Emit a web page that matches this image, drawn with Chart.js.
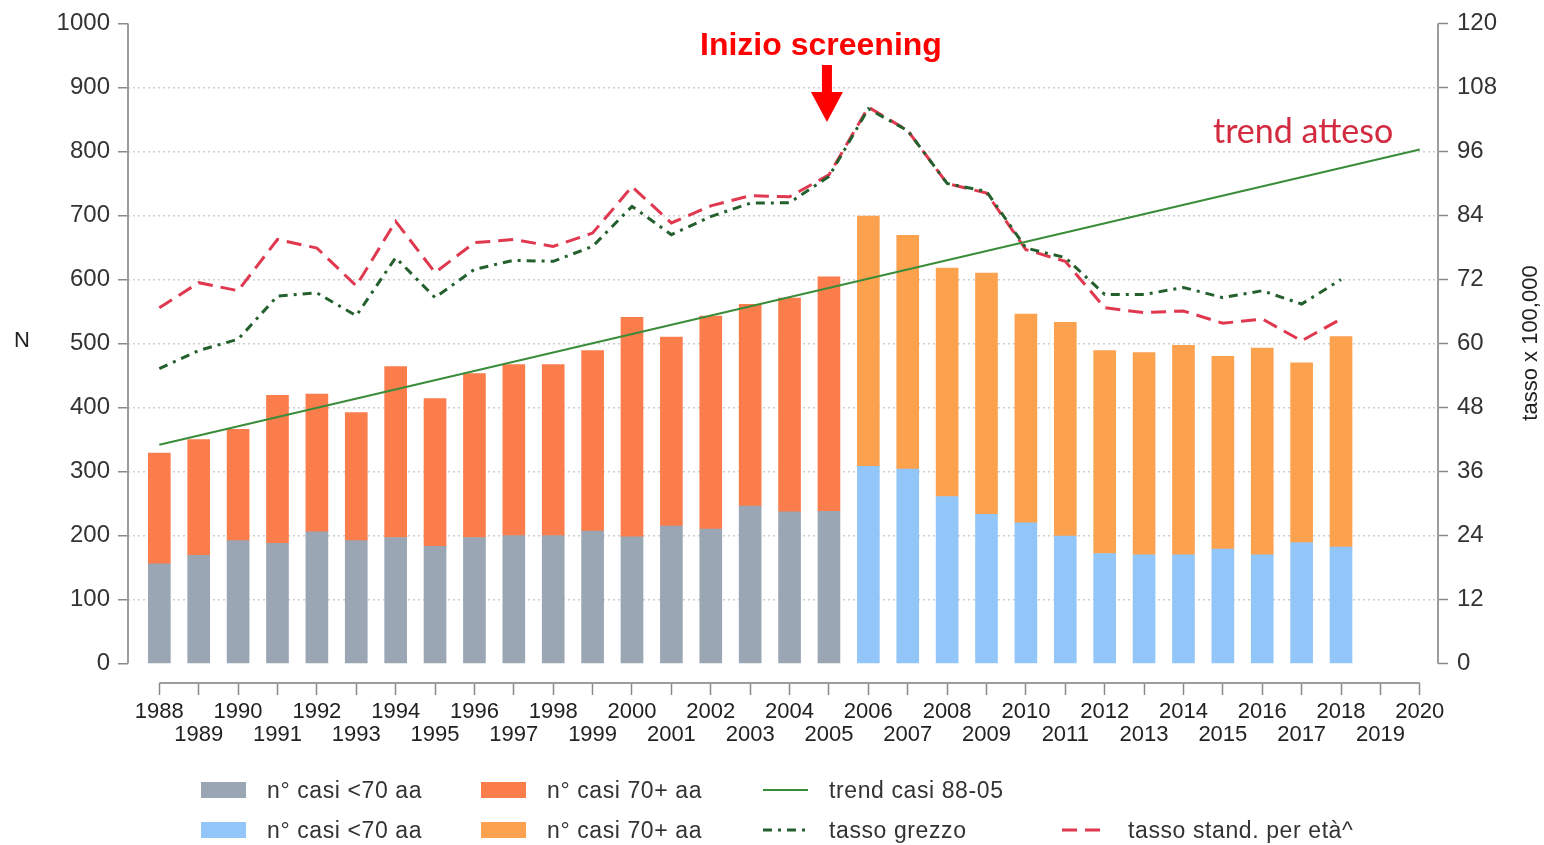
<!DOCTYPE html>
<html>
<head>
<meta charset="utf-8">
<script src="https://cdn.jsdelivr.net/npm/chart.js@4.4.1/dist/chart.umd.min.js"></script>
<style>
  html, body { margin: 0; padding: 0; background: #fff; }
  #wrap { position: relative; width: 1544px; height: 845px; }
  #legend { position: absolute; left: 0; top: 0; width: 1544px; height: 845px; pointer-events: none;
    font-family: "Liberation Sans", Arial, sans-serif; font-size: 23px; letter-spacing: 0.6px; color: #333; }
  .item { position: absolute; display: flex; align-items: center; white-space: nowrap; }
  .swatch { width: 45px; height: 16px; margin-right: 21px; }
</style>
</head>
<body>
<div id="wrap">
  <canvas id="chart"></canvas>
  <div id="legend"></div>
</div>
<script>
// years with bars, and the years shown on the x axis
const years = [1988, 1989, 1990, 1991, 1992, 1993, 1994, 1995, 1996, 1997, 1998,
  1999, 2000, 2001, 2002, 2003, 2004, 2005, 2006, 2007, 2008, 2009, 2010, 2011,
  2012, 2013, 2014, 2015, 2016, 2017, 2018];
const axisYears = [1988, 1989, 1990, 1991, 1992, 1993, 1994, 1995, 1996, 1997, 1998,
  1999, 2000, 2001, 2002, 2003, 2004, 2005, 2006, 2007, 2008, 2009, 2010, 2011,
  2012, 2013, 2014, 2015, 2016, 2017, 2018, 2019, 2020];
const screeningYear = 2006;

// n° casi
const casiUnder70 = [156, 169, 192, 188, 206, 192, 197, 183, 197, 200, 200, 207, 198, 215,
  210, 246, 237, 238, 308, 304, 261, 233, 220, 199, 172, 170, 170, 179, 170, 189, 182];
const casiOver70 = [173, 181, 174, 231, 215, 200, 267, 231, 256, 267, 267, 282, 343, 295,
  333, 315, 334, 366, 391, 365, 357, 377, 326, 334, 317, 316, 327, 301, 323, 281, 329];

// trend casi 88-05 (retta, estremi)
const trendYears = [1988, 2020];
const trendValues = [342, 803];

// tassi x 100,000
const tassoGrezzo = [55.3, 58.7, 60.8, 68.9, 69.5, 65.2, 76.1, 68.6, 73.9, 75.6, 75.4,
  78.2, 85.7, 80.4, 83.8, 86.3, 86.4, 91.3, 104.0, 99.9, 90.0, 88.5, 77.9, 76.1,
  69.2, 69.2, 70.5, 68.6, 69.9, 67.4, 72.0];
const tassoStand = [66.7, 71.4, 69.9, 79.5, 77.9, 70.8, 82.9, 73.3, 78.9, 79.5, 78.2,
  80.7, 89.4, 82.6, 85.8, 87.7, 87.5, 91.6, 104.3, 99.9, 90.0, 88.2, 77.6, 75.4,
  66.7, 65.8, 66.1, 63.8, 64.6, 60.5, 64.6];

const leftTicks = [0, 100, 200, 300, 400, 500, 600, 700, 800, 900, 1000];
const rightTicks = [0, 12, 24, 36, 48, 60, 72, 84, 96, 108, 120];

const FONT = '"Liberation Sans", Arial, sans-serif';
Chart.defaults.font.family = FONT;
Chart.defaults.color = "#333";

function points(values, keep) {
  const out = [];
  years.forEach((yr, i) => {
    if (keep(yr)) out.push({ x: yr, y: values[i] });
  });
  return out;
}
const before = (yr) => yr < screeningYear;
const after = (yr) => yr >= screeningYear;
const all = () => true;

const datasets = [
  { label: "n° casi <70 aa", data: points(casiUnder70, before), backgroundColor: "#9aa6b4", stack: "casi", order: 2 },
  { label: "n° casi 70+ aa", data: points(casiOver70, before), backgroundColor: "#fa7d4b", stack: "casi", order: 2 },
  { label: "n° casi <70 aa", data: points(casiUnder70, after), backgroundColor: "#92c6f9", stack: "casi", order: 2 },
  { label: "n° casi 70+ aa", data: points(casiOver70, after), backgroundColor: "#fca24f", stack: "casi", order: 2 },
  {
    type: "line", label: "trend casi 88-05", yAxisID: "y",
    data: trendYears.map((yr, i) => ({ x: yr, y: trendValues[i] })),
    borderColor: "#3a8c3a", borderWidth: 2, pointRadius: 0, order: 0,
  },
  {
    type: "line", label: "tasso grezzo", yAxisID: "y1",
    data: points(tassoGrezzo, all),
    borderColor: "#24602e", borderWidth: 3, borderDash: [9, 6, 3, 6], pointRadius: 0, order: 0,
  },
  {
    type: "line", label: "tasso stand. per età^", yAxisID: "y1",
    data: points(tassoStand, all),
    borderColor: "#e0384e", borderWidth: 3, borderDash: [15, 8], pointRadius: 0, order: 0,
  },
];

// legend slots: [column, row]
const legendSlots = [[0, 0], [1, 0], [0, 1], [1, 1], [2, 0], [2, 1], [3, 1]];
const legendCols = [201, 481, 763, 1062];
const legendRows = [790, 830];

const overlay = {
  id: "overlay",
  afterDraw(chart) {
    const { ctx, chartArea, scales } = chart;
    const x = scales.x, y = scales.y, y1 = scales.y1;
    ctx.save();

    // axis lines
    ctx.strokeStyle = "#9c9c9c";
    ctx.lineWidth = 2;
    ctx.beginPath();
    ctx.moveTo(chartArea.left, y.getPixelForValue(0));
    ctx.lineTo(chartArea.left, y.getPixelForValue(1000));
    ctx.moveTo(chartArea.right, y1.getPixelForValue(0));
    ctx.lineTo(chartArea.right, y1.getPixelForValue(120));
    ctx.moveTo(x.getPixelForValue(1988), chartArea.bottom);
    ctx.lineTo(x.getPixelForValue(2020), chartArea.bottom);
    ctx.stroke();

    // axis titles
    ctx.fillStyle = "#222";
    ctx.font = "22px " + FONT;
    ctx.textAlign = "center";
    ctx.textBaseline = "middle";
    ctx.fillText("N", 22, 341);
    ctx.save();
    ctx.translate(1531, 343);
    ctx.rotate(-Math.PI / 2);
    ctx.fillText("tasso x 100,000", 0, 0);
    ctx.restore();

    // Inizio screening + arrow
    const ax = x.getPixelForValue(2005) - 2;
    ctx.fillStyle = "#ff0000";
    ctx.font = "bold 32px " + FONT;
    ctx.textBaseline = "alphabetic";
    ctx.fillText("Inizio screening", ax - 6, 55);
    ctx.beginPath();
    ctx.rect(ax - 5, 65, 10, 28);
    ctx.moveTo(ax - 16, 92);
    ctx.lineTo(ax + 16, 92);
    ctx.lineTo(ax, 122);
    ctx.closePath();
    ctx.fill();

    // trend atteso
    ctx.fillStyle = "#d22a3f";
    ctx.font = '34px Lato, "Open Sans", sans-serif';
    ctx.textAlign = "left";
    ctx.fillText("trend atteso", 1213, 143);
    ctx.restore();
  },
};

new Chart(document.getElementById("chart"), {
  type: "bar",
  data: { datasets },
  options: {
    responsive: true,
    maintainAspectRatio: false,
    animation: false,
    devicePixelRatio: 1,
    barThickness: 22,
    layout: { padding: { top: 19, bottom: 82, left: 0, right: 0 } },
    plugins: { legend: { display: false }, tooltip: { enabled: false } },
    scales: {
      x: {
        type: "linear",
        offset: false,
        min: 1987.205,
        max: 2020.462,
        afterBuildTicks: (s) => { s.ticks = axisYears.map((v) => ({ value: v })); },
        afterFit: (s) => { s.height = 80; },
        border: { display: false },
        grid: { offset: false, drawOnChartArea: false, drawTicks: true, tickLength: 12, tickColor: "#8a8a8a", tickWidth: 1.5 },
        ticks: {
          autoSkip: false, maxRotation: 0, minRotation: 0, padding: 6, color: "#222",
          font: { size: 22, lineHeight: 1.03 },
          callback: (v) => (v % 2 === 0 ? String(v) : ["", String(v)]),
        },
      },
      y: {
        position: "left",
        min: -30.3,
        max: 1000,
        afterBuildTicks: (s) => { s.ticks = leftTicks.map((v) => ({ value: v })); },
        afterFit: (s) => { s.width = 128; },
        border: { display: false, dash: [2, 3] },
        grid: {
          color: (c) => (c.tick && c.tick.value > 0 && c.tick.value < 1000 ? "#cdcdcd" : "rgba(0,0,0,0)"),
          lineWidth: 1.5, tickLength: 10, tickColor: "#8a8a8a", tickWidth: 1.5,
        },
        ticks: { padding: 8, color: "#333", font: { size: 24 }, callback: (v) => String(v) },
      },
      y1: {
        position: "right",
        min: -3.63,
        max: 120,
        afterBuildTicks: (s) => { s.ticks = rightTicks.map((v) => ({ value: v })); },
        afterFit: (s) => { s.width = 106; },
        border: { display: false },
        grid: { drawOnChartArea: false, tickLength: 10, tickColor: "#8a8a8a", tickWidth: 1.5 },
        ticks: { padding: 9, color: "#333", font: { size: 24 }, callback: (v) => String(v) },
      },
    },
  },
  plugins: [overlay],
});

// legend
const legend = document.getElementById("legend");
datasets.forEach((ds, i) => {
  const [col, row] = legendSlots[i];
  const item = document.createElement("div");
  item.className = "item";
  item.style.left = legendCols[col] + "px";
  item.style.top = legendRows[row] - 13 + "px";
  item.style.height = "26px";
  let swatch;
  if (ds.type === "line") {
    const dash = ds.borderDash ? ds.borderDash.join(" ") : "none";
    swatch = `<svg class="swatch" viewBox="0 0 45 16"><line x1="0" y1="8" x2="45" y2="8"
      stroke="${ds.borderColor}" stroke-width="${ds.borderWidth}" stroke-dasharray="${dash}"/></svg>`;
  } else {
    swatch = `<div class="swatch" style="background:${ds.backgroundColor}"></div>`;
  }
  item.innerHTML = swatch + `<span>${ds.label}</span>`;
  legend.appendChild(item);
});
</script>
</body>
</html>
